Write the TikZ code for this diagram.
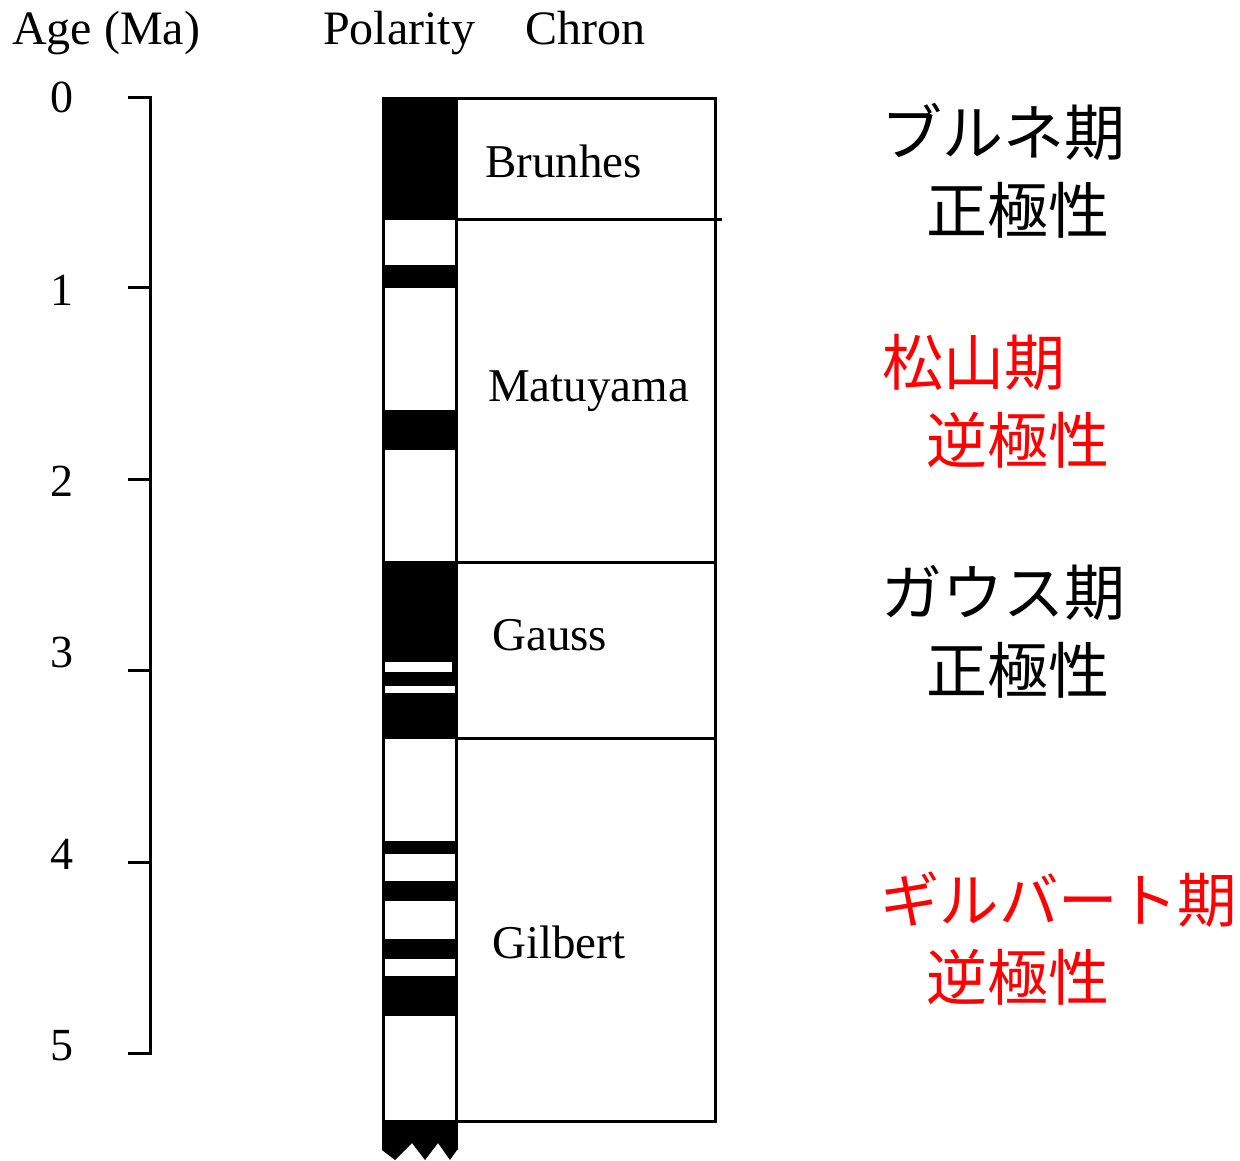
\documentclass[tikz,border=0pt]{standalone}
\usepackage{fontspec}
\setmainfont{Liberation Serif}
\newfontfamily\jp{Noto Sans CJK JP}
\begin{document}
\begin{tikzpicture}[x=1pt,y=-1pt,
  line/.style={line width=3pt},
  hdr/.style={font=\fontsize{48}{48}\selectfont, anchor=base west, inner sep=0},
  chron/.style={font=\fontsize{47}{47}\selectfont, anchor=base west, inner sep=0},
  num/.style={font=\fontsize{46}{46}\selectfont, inner sep=0},
  jpl/.style={font=\jp\fontsize{61}{61}\selectfont, anchor=west, inner sep=0},
  rev/.style={jpl, text=red}]
\useasboundingbox (0,0) rectangle (1240,1160);
% headers
\node[hdr] (hage) at (12,44) {Age (Ma)};
\node[hdr] (hpol) at (323,44) {Polarity};
\node[hdr] (hchr) at (525,44) {Chron};
% age axis
\draw[line] (128,97) -| (150,1053) -- (128,1053);
\foreach \y in {287,479,670,862} \draw[line] (128,\y) -- (150,\y);
\node[num] (n0) at (62,97) {0};
\node[num] (n1) at (62,290) {1};
\node[num] (n2) at (62,481) {2};
\node[num] (n3) at (62,652) {3};
\node[num] (n4) at (62,854) {4};
\node[num] (n5) at (62,1046) {5};
% polarity column
\fill (382,97) rectangle (457,220);
\fill (382,265) rectangle (457,288);
\fill (382,410) rectangle (457,450);
\fill (382,561) rectangle (457,739);
\fill[white] (384,662) rectangle (452,672);
\fill[white] (384,686) rectangle (455,693);
\fill (382,841) rectangle (457,854);
\fill (382,881) rectangle (457,901);
\fill (382,939) rectangle (457,959);
\fill (382,976) rectangle (457,1016);
\fill (382,1120) -- (457,1120) -- (457,1150) -- (450,1160) -- (438,1143)
  -- (425,1160) -- (412,1143) -- (395,1160) -- (382,1150) -- cycle;
\draw[line] (383,97) -- (383,1150);
\draw[line] (456.5,97) -- (456.5,1150);
\draw[line] (382,98) -- (717,98);
\draw[line] (715.5,97) -- (715.5,1123);
\draw[line] (456,219.5) -- (722,219.5);
\draw[line] (456,562) -- (717,562);
\draw[line] (456,738) -- (717,738);
\draw[line] (456,1121.5) -- (717,1121.5);
% chron names
\node[chron] (cb) at (485,177) {Brunhes};
\node[chron] (cm) at (488,401) {Matuyama};
\node[chron] (cg) at (492,650) {Gauss};
\node[chron] (ci) at (492,958) {Gilbert};
% Japanese labels
\node[jpl] (j1a) at (881,132) {ブルネ期};
\node[jpl] (j1b) at (926,210) {正極性};
\node[rev] (j2a) at (882,362) {松山期};
\node[rev] (j2b) at (926,440) {逆極性};
\node[jpl] (j3a) at (881,593) {ガウス期};
\node[jpl] (j3b) at (926,670) {正極性};
\node[rev, font=\jp\fontsize{59.5}{59.5}\selectfont] (j4a) at (880,900) {ギルバート期};
\node[rev] (j4b) at (926,977) {逆極性};
\end{tikzpicture}
\end{document}
